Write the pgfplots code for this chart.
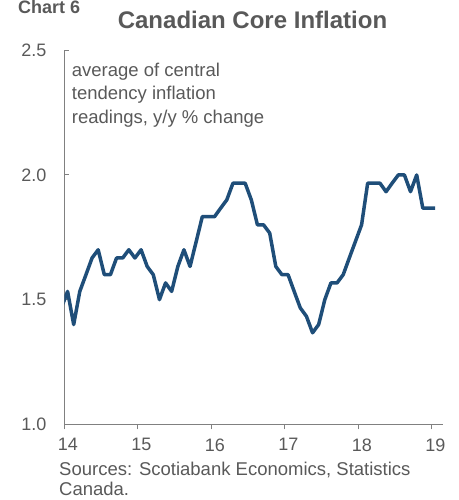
\documentclass[border=0pt]{standalone}
\usepackage{pgfplots}
\pgfplotsset{compat=1.18}
\usepackage{fontspec}
\setmainfont{Liberation Sans}
\definecolor{txtgray}{HTML}{595959}
\definecolor{axgray}{HTML}{808080}
\definecolor{coreblue}{HTML}{1F4E79}
\begin{document}
\begin{tikzpicture}
\begin{axis}[
    scale only axis,
    width=378.5pt, height=374pt,
    at={(0,0)}, anchor=south west,
    xmin=14, xmax=19.15,
    ymin=1, ymax=2.5,
    axis x line*=bottom, axis y line*=left,
    axis line style={axgray, line width=1pt},
    xtick={14,15,16,17,18,19},
    ytick={1,1.5,2,2.5},
    xtick align=outside, ytick align=inside,
    major tick length=5pt,
    tick style={axgray, line width=1pt},
    /pgf/number format/assume math mode=true,
    ticklabel style={font=\fontsize{18}{20}\selectfont, text=txtgray, inner sep=0pt},
    yticklabel style={/pgf/number format/fixed, /pgf/number format/fixed zerofill,
        /pgf/number format/precision=1, anchor=east, xshift=-18pt},
    xticklabel style={anchor=north, yshift=-9pt, xshift=3.5pt},
    clip=true,
]
\addplot[coreblue, line width=3.5pt, line join=round] coordinates {
(13.958,1.467)
(14.042,1.533) (14.125,1.400) (14.208,1.533) (14.292,1.600) (14.375,1.667) (14.458,1.700)
(14.542,1.600) (14.625,1.600) (14.708,1.667) (14.792,1.667) (14.875,1.700) (14.958,1.667)
(15.042,1.700) (15.125,1.633) (15.208,1.600) (15.292,1.500) (15.375,1.567) (15.458,1.533)
(15.542,1.633) (15.625,1.700) (15.708,1.633) (15.792,1.733) (15.875,1.833) (15.958,1.833)
(16.042,1.833) (16.125,1.867) (16.208,1.900) (16.292,1.967) (16.375,1.967) (16.458,1.967)
(16.542,1.900) (16.625,1.800) (16.708,1.800) (16.792,1.767) (16.875,1.633) (16.958,1.600)
(17.042,1.600) (17.125,1.533) (17.208,1.467) (17.292,1.433) (17.375,1.367) (17.458,1.400)
(17.542,1.500) (17.625,1.567) (17.708,1.567) (17.792,1.600) (17.875,1.667) (17.958,1.733)
(18.042,1.800) (18.125,1.967) (18.208,1.967) (18.292,1.967) (18.375,1.933) (18.458,1.967)
(18.542,2.000) (18.625,2.000) (18.708,1.933) (18.792,2.000) (18.875,1.867) (18.958,1.867)
(19.042,1.867)
};
\end{axis}
% texts placed relative to the axis box (origin = lower left corner of axis);
% multi-line nodes anchor on the baseline of their last line
\node[anchor=base, inner sep=0pt, text=txtgray, font=\fontsize{24}{28}\selectfont\bfseries]
  at (188pt,395.5pt) {Canadian Core Inflation};
\node[anchor=base west, inner sep=0pt, text=txtgray, font=\fontsize{18}{20}\selectfont\bfseries]
  at (-46.5pt,410.5pt) {Chart 6};
\node[anchor=base west, inner sep=0pt, text=txtgray, font=\fontsize{18.5}{23.3}\selectfont, align=left]
  at (7.2pt,301pt) {average of central\\tendency inflation\\readings, y/y \% change};
\node[anchor=base west, inner sep=0pt, text=txtgray, font=\fontsize{18.5}{20}\selectfont, align=left]
  at (-5.5pt,-71.5pt) {Sources: Scotiabank Economics, Statistics\\Canada.};
\pgfresetboundingbox
\useasboundingbox (-64.5pt,-75.7pt) rectangle (393.5pt,424.3pt);
\end{tikzpicture}
\end{document}
